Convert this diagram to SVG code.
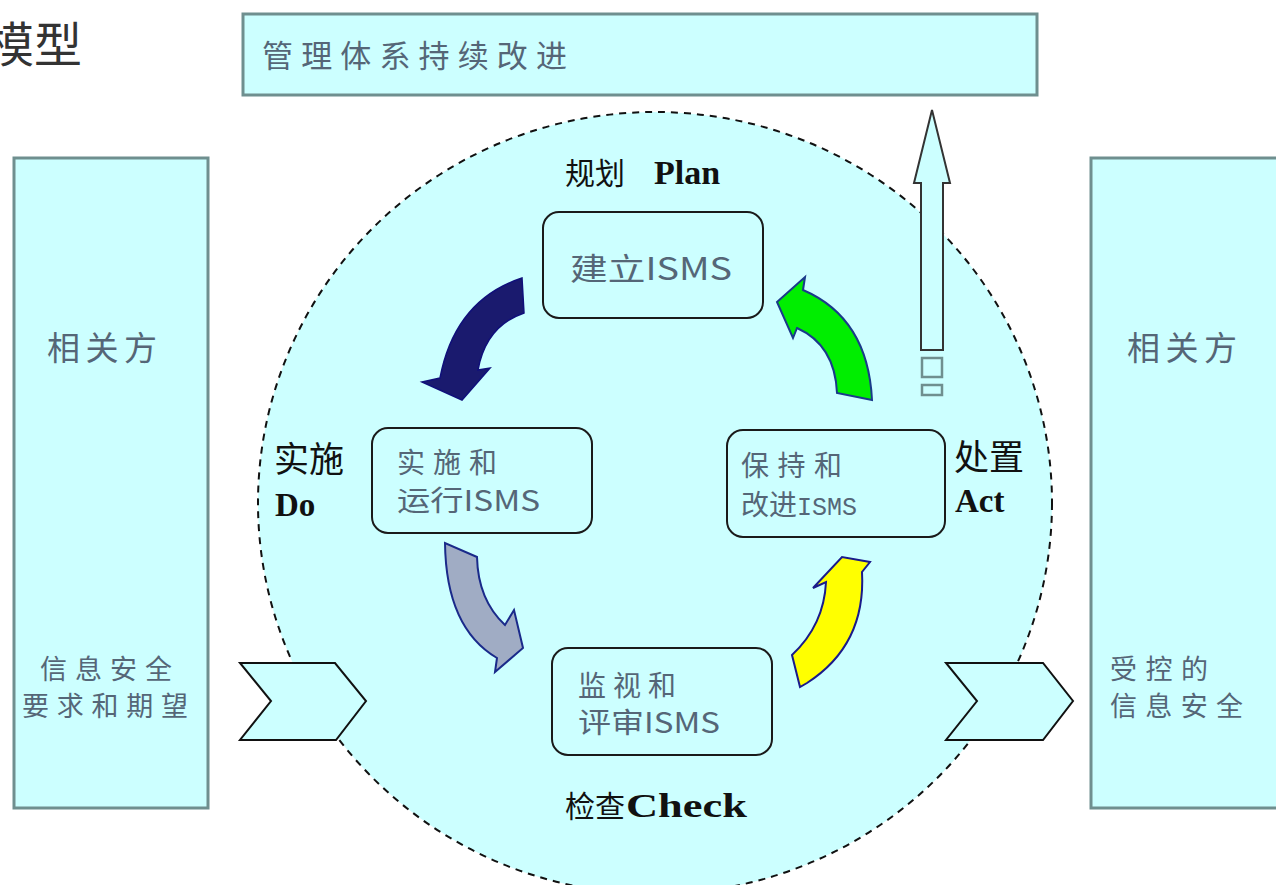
<svg xmlns="http://www.w3.org/2000/svg" width="1276" height="885" viewBox="0 0 1276 885">
<style>
.panel{fill:#ccffff;stroke:#6f8f8f;stroke-width:3}
.node{fill:#ccffff;stroke:#1a1a1a;stroke-width:2}
.t{font-family:"Noto Sans CJK SC","Noto Sans",sans-serif;fill:#556677}
.cj{font-family:"Noto Sans CJK SC",sans-serif;fill:#111}
.en{font-family:"Liberation Serif","Noto Sans CJK SC",serif;fill:#111;font-weight:bold}
.chev{fill:#ccffff;stroke:#111;stroke-width:2}
</style>
<rect width="1276" height="885" fill="#ffffff"/>
<text x="-14" y="62" font-family="Noto Sans CJK SC, sans-serif" font-size="48" fill="#333">模型</text>

<g id="top-box">
<rect class="panel" x="243" y="14" width="794" height="81" stroke="#5f7a78"/>
<text class="t" x="262" y="67" font-size="31" textLength="305" lengthAdjust="spacing">管理体系持续改进</text>
</g>

<g id="left-panel">
<rect class="panel" x="14" y="158" width="194" height="650"/>
<text class="t" x="47" y="360" font-size="33" textLength="110" lengthAdjust="spacing" fill="#7a8a90">相关方</text>
<text class="t" x="40" y="679" font-size="27" textLength="132" lengthAdjust="spacing">信息安全</text>
<text class="t" x="22" y="716" font-size="27" textLength="166" lengthAdjust="spacing">要求和期望</text>
</g>

<g id="right-panel">
<rect class="panel" x="1091" y="158" width="190" height="650"/>
<text class="t" x="1127" y="360" font-size="33" textLength="110" lengthAdjust="spacing" fill="#7a8a90">相关方</text>
<text class="t" x="1110" y="679" font-size="27" textLength="98" lengthAdjust="spacing">受控的</text>
<text class="t" x="1110" y="716" font-size="27" textLength="133" lengthAdjust="spacing">信息安全</text>
</g>

<g id="cycle">
<ellipse cx="655" cy="503" rx="397" ry="391" fill="#ccffff" stroke="#111" stroke-width="2" stroke-dasharray="7,6"/>
</g>

<g id="input-chevron">
<polygon class="chev" points="240,663 335,663 366,701 336,740 240,740 271,701"/>
</g>
<g id="output-chevron">
<polygon class="chev" points="946,663 1043,663 1073,701 1043,740 946,740 977,701"/>
</g>

<g id="improve-arrow">
<path d="M932,110 L950,183 L943,183 L943,350 L921,350 L921,183 L914,183 Z" fill="#ccffff" stroke="#333" stroke-width="2"/>
<rect x="922" y="358" width="20" height="19" fill="#ccffff" stroke="#6f8f8f" stroke-width="2.5"/>
<rect x="922" y="385" width="20" height="10" fill="#ccffff" stroke="#6f8f8f" stroke-width="2.5"/>
</g>

<g id="label-plan">
<text class="cj" x="565" y="184" font-size="30">规划</text>
<text class="en" x="654" y="184" font-size="34">Plan</text>
</g>
<g id="label-do">
<text class="cj" x="274" y="472" font-size="35">实施</text>
<text class="en" x="275" y="516" font-size="33">Do</text>
</g>
<g id="label-act">
<text class="cj" x="954" y="470" font-size="35">处置</text>
<text class="en" x="955" y="512" font-size="33">Act</text>
</g>
<g id="label-check">
<text class="cj" x="565" y="817" font-size="30">检查</text>
<text class="en" x="626" y="817" font-size="34" textLength="121" lengthAdjust="spacingAndGlyphs">Check</text>
</g>

<g id="node-plan">
<rect class="node" x="543" y="212" width="220" height="106" rx="16"/>
<text class="t" x="570" y="280" font-size="31" textLength="162" lengthAdjust="spacingAndGlyphs">建立ISMS</text>
</g>
<g id="node-do">
<rect class="node" x="372" y="428" width="220" height="105" rx="16"/>
<text class="t" x="397" y="473" font-size="28" textLength="100" lengthAdjust="spacing">实施和</text>
<text class="t" x="397" y="511" font-size="28" textLength="143" lengthAdjust="spacingAndGlyphs">运行ISMS</text>
</g>
<g id="node-act">
<rect class="node" x="727" y="430" width="218" height="107" rx="16"/>
<text class="t" x="741" y="476" font-size="28" textLength="101" lengthAdjust="spacing">保持和</text>
<text class="t" x="741" y="515" font-size="28">改进<tspan font-family="Liberation Mono, monospace" font-size="25">ISMS</tspan></text>
</g>
<g id="node-check">
<rect class="node" x="552" y="648" width="220" height="107" rx="16"/>
<text class="t" x="578" y="696" font-size="28" textLength="98" lengthAdjust="spacing">监视和</text>
<text class="t" x="578" y="733" font-size="28" textLength="142" lengthAdjust="spacingAndGlyphs">评审ISMS</text>
</g>

<g id="connectors">
<path d="M522,278 Q455,300 440,378 L422,382 L462,400 L490,368 L478,370 Q486,326 524,313 Z" fill="#1a1a6e" stroke="#10107a" stroke-width="1.5"/>
<path d="M872,400 Q868,318 803,290 L805,277 L777,302 L793,338 L797,328 Q835,345 837,393 Z" fill="#00ee00" stroke="#1a3a8a" stroke-width="2"/>
<path d="M445,543 Q446,628 497,658 L495,672 L523,648 L514,610 L505,625 Q478,600 477,557 Z" fill="#a0acc4" stroke="#1a2a8a" stroke-width="2"/>
<path d="M800,687 L792,655 Q824,625 826,582 L813,588 L842,557 L870,562 L862,572 Q866,645 807,683 Z" fill="#ffff00" stroke="#1a1a8a" stroke-width="2"/>
</g>
</svg>
